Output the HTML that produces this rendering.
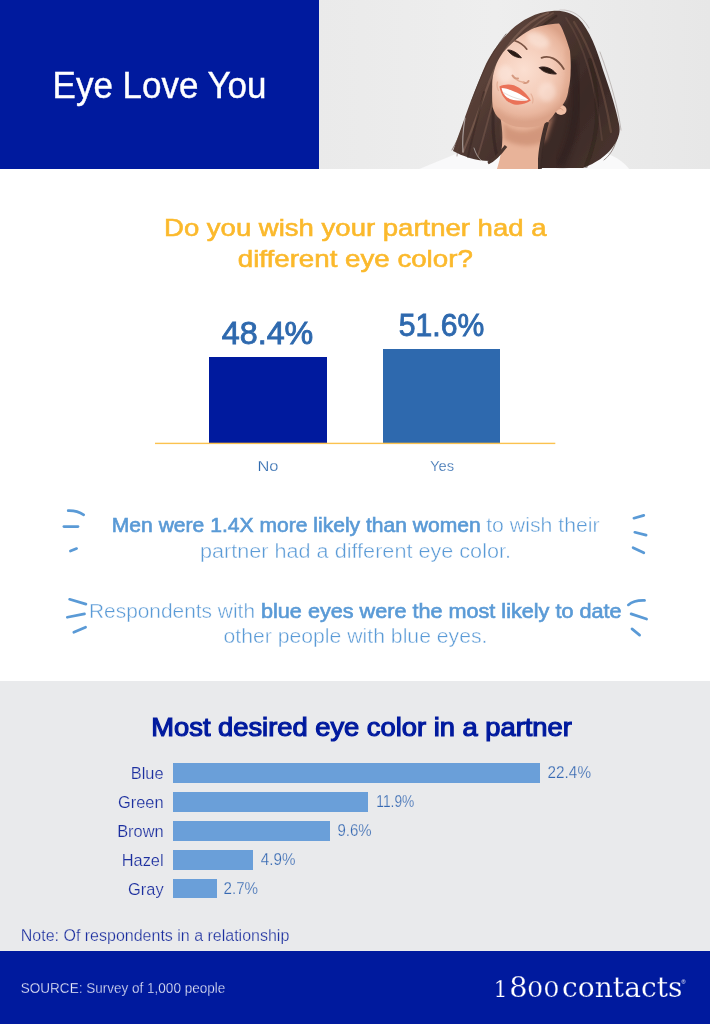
<!DOCTYPE html>
<html lang="en">
<head>
<meta charset="utf-8">
<title>Eye Love You</title>
<style>
html,body{margin:0;padding:0;}
body{width:710px;height:1024px;position:relative;overflow:hidden;background:#fff;font-family:"Liberation Sans",sans-serif;}
.r{position:absolute;}
#txt{position:absolute;left:0;top:0;font-family:"Liberation Sans",sans-serif;}
</style>
</head>
<body>
<svg id="photo" viewBox="318 0 392 169" width="392" height="169" style="position:absolute;left:318px;top:0">
<defs>
<linearGradient id="bgg" x1="0" y1="0" x2="1" y2="0">
<stop offset="0" stop-color="#eaeaea"/><stop offset="0.45" stop-color="#eeeeee"/><stop offset="1" stop-color="#e7e7e7"/>
</linearGradient>
<radialGradient id="faceg" gradientUnits="userSpaceOnUse" cx="524" cy="70" r="52">
<stop offset="0" stop-color="#fbdfd1"/><stop offset="0.55" stop-color="#f4ccb9"/><stop offset="0.85" stop-color="#e9b69e"/><stop offset="1" stop-color="#dba288"/>
</radialGradient>
<linearGradient id="hairg" gradientUnits="userSpaceOnUse" x1="460" y1="40" x2="620" y2="150">
<stop offset="0" stop-color="#6a4c42"/><stop offset="0.35" stop-color="#4e3831"/><stop offset="0.7" stop-color="#3a2926"/><stop offset="1" stop-color="#4a352f"/>
</linearGradient>
<filter id="b1" x="-20%" y="-20%" width="140%" height="140%"><feGaussianBlur stdDeviation="0.7"/></filter>
<filter id="b2" x="-20%" y="-20%" width="140%" height="140%"><feGaussianBlur stdDeviation="2"/></filter>
<filter id="b4" x="-30%" y="-30%" width="160%" height="160%"><feGaussianBlur stdDeviation="4"/></filter>
<clipPath id="pc"><rect x="318" y="0" width="392" height="169"/></clipPath>
</defs>
<g clip-path="url(#pc)">
<rect x="318" y="0" width="392" height="169" fill="url(#bgg)"/>
<!-- shirt -->
<path d="M417,170 C430,164 445,159 458,153 L500,150 L585,152 C600,150 618,154 630,170 Z" fill="#f9f9fa" filter="url(#b1)"/>
<!-- hair back -->
<path filter="url(#b1)" fill="url(#hairg)" d="M552,11 C536,12 522,20 511,30 C500,41 492,52 486,64 C479,80 474,93 469,106 C464,120 459,134 453,151 C462,156 476,161 490,161 C498,156 502,150 506,144 L540,140 C538,150 536,158 538,168 L583,168 C596,163 606,156 612,148 C618,140 621,133 619,124 C616,108 610,90 603,70 C597,50 590,30 578,18 C570,12 561,10 552,11 Z"/>
<!-- hair highlights -->
<g fill="none" filter="url(#b1)" stroke-linecap="round">
<path d="M548,13 C524,22 503,47 490,80 C481,104 473,128 463,152" stroke="#8a695b" stroke-width="2.2" opacity="0.55"/>
<path d="M553,13 C530,26 511,50 499,82 C491,106 486,130 478,156" stroke="#7c5c4f" stroke-width="1.8" opacity="0.5"/>
<path d="M556,16 C538,28 520,46 508,66" stroke="#33231f" stroke-width="2.5" opacity="0.6"/>
<path d="M496,90 C492,112 492,136 497,156" stroke="#2f201d" stroke-width="3" opacity="0.55"/>
<path d="M484,92 C478,116 472,138 468,157" stroke="#35251f" stroke-width="2" opacity="0.5"/>
<path d="M574,22 C592,50 604,90 611,132" stroke="#755548" stroke-width="2.2" opacity="0.5"/>
<path d="M566,18 C584,44 596,86 602,140" stroke="#6d4f44" stroke-width="1.8" opacity="0.45"/>
<path d="M590,60 C600,96 600,134 586,166" stroke="#2c1e1b" stroke-width="4" opacity="0.45"/>
<path d="M506,34 C490,54 480,78 472,100" stroke="#4a352f" stroke-width="0.9" opacity="0.7"/>
<path d="M474,96 C468,116 460,136 452,150" stroke="#5a4138" stroke-width="0.9" opacity="0.7"/>
<path d="M470,112 C462,130 458,142 457,156" stroke="#5a4138" stroke-width="0.8" opacity="0.6"/>
<path d="M600,52 C611,82 618,108 621,130" stroke="#4a352f" stroke-width="0.8" opacity="0.35"/>
<path d="M618,128 C618,142 612,154 604,160" stroke="#4a352f" stroke-width="0.9" opacity="0.6"/>
<path d="M560,10 C572,9 582,16 589,28" stroke="#4a352f" stroke-width="0.7" opacity="0.3"/>
<path d="M465,118 C463,130 462,140 463,152" stroke="#eeeeee" stroke-width="1.2" opacity="0.55"/>
<path d="M474,148 C476,154 478,158 482,161" stroke="#eeeeee" stroke-width="1" opacity="0.5"/>
</g>
<path d="M572,60 C580,95 578,130 560,166" stroke="#2c1e1b" stroke-width="9" fill="none" opacity="0.55" filter="url(#b2)"/>
<!-- neck -->
<path d="M500,116 C504,135 503,150 497,169 L540,169 C540.5,155 543,140 549,120 L556,110 Z" fill="#e8b399" filter="url(#b1)"/>
<path d="M503,122 C515,136 538,134 555,113 L546,140 C536,148 515,147 504,139 Z" fill="#c98b70" opacity="0.7" filter="url(#b2)"/>
<path d="M547,122 C542,140 539,156 540,169" stroke="#3a2926" stroke-width="4" fill="none" filter="url(#b1)" opacity="0.95"/>
<path d="M506,146 C500,154 494,160 488,163" stroke="#4a342e" stroke-width="3" fill="none" filter="url(#b1)"/>
<!-- ear -->
<ellipse cx="561" cy="110" rx="5.5" ry="5" fill="#f0bfa6" filter="url(#b1)"/>
<path d="M558.5,109 q3,-2 4.5,1.5" stroke="#d79b80" stroke-width="1" fill="none" filter="url(#b1)"/>
<!-- face -->
<path filter="url(#b1)" fill="url(#faceg)" d="M559,23.5 C548,24 538,26 531,29.5 C525,33 520,36 515.6,40 C510,45 506,49 503,52.5 C499,58 497,62 495.5,66.5 C493,74 492,80 492.2,86 C492,94 492,100 492.6,107 C494,112 496,116 500,119 C506,124 513,127 520,127 C528,128 536,127 542,125 C548,122 552,118 555,113 C560,108 562,106 564,103 C567,98 568,94 568.5,89 C570,83 570.6,77 570.6,71 C571,64 570.5,57 570,51 C568,44 566,38 563.7,32.4 C562,28 561,26 559,23.5 Z"/>
<ellipse cx="505" cy="74" rx="8" ry="9" fill="#fff1ea" opacity="0.45" filter="url(#b2)"/>
<ellipse cx="547" cy="92" rx="9" ry="10" fill="#fff1ea" opacity="0.4" filter="url(#b2)"/>
<ellipse cx="538" cy="40" rx="12" ry="7" fill="#fdeae0" opacity="0.6" filter="url(#b2)" transform="rotate(25 538 40)"/>
<path d="M497,110 C506,122 522,127 542,123" stroke="#dba389" stroke-width="4" fill="none" opacity="0.55" filter="url(#b2)"/>
<path d="M567,50 C569,66 568,86 562,102" stroke="#d9a085" stroke-width="4" fill="none" opacity="0.5" filter="url(#b2)"/>
<g filter="url(#b1)">
<!-- brows -->
<path d="M514.8,40.8 C519,42 523.5,45 526.8,49.2" stroke="#7a5343" stroke-width="1.7" fill="none" stroke-linecap="round"/>
<path d="M541.5,57.8 C549,55 557.5,58.5 563.8,69" stroke="#7a5343" stroke-width="1.8" fill="none" stroke-linecap="round"/>
<!-- eyes -->
<path d="M507.6,50 C511,49.6 517.5,52.5 521.4,57.8 C516,57.6 510.5,55 507.6,50 Z" fill="#2b1b18" stroke="#2b1b18" stroke-width="0.9" stroke-linejoin="round"/>
<path d="M539.2,67.6 C544,65.6 552,68 556.4,74 C550,74.3 543,72.3 539.2,67.6 Z" fill="#2b1b18" stroke="#2b1b18" stroke-width="0.9" stroke-linejoin="round"/>
<!-- nose -->
<path d="M512.5,75.5 C514,78 516,79 518,78.5" stroke="#d59a80" stroke-width="2" fill="none" stroke-linecap="round"/>
<path d="M523.5,82.5 C525.5,83.5 527.5,83 528.5,81" stroke="#d59a80" stroke-width="2" fill="none" stroke-linecap="round"/>
<path d="M517,80 C519,81.5 521.5,82 523.5,82.3" stroke="#e4ad94" stroke-width="1.4" fill="none" stroke-linecap="round"/>
<!-- smile lines -->
<path d="M497.5,82 C496.5,85 497,88 498.5,90.5" stroke="#e6b29a" stroke-width="1.3" fill="none" stroke-linecap="round"/>
<path d="M531,94 C533,97 533.5,100 532.5,103" stroke="#e6b29a" stroke-width="1.3" fill="none" stroke-linecap="round"/>
<!-- mouth -->
<path d="M499.4,86.4 C504,84.3 509,83.8 514,85.3 C521,88 527,94 530.8,100.6 C526,104.2 520,105.3 514,104.4 C507,103 501,96 499.4,86.4 Z" fill="#ea7259"/>
<path d="M501.6,88 C508,88.3 520,92.8 528.6,100 C521,101.8 512,100.6 507,97.5 C504,95 502.2,92 501.6,88 Z" fill="#ffffff"/>
<path d="M503.5,92.5 C509,96 518,99.5 527,100.4" stroke="#d8cfc9" stroke-width="0.7" fill="none"/>
</g>
</g>
</svg>

<div class="r" style="left:0;top:0;width:319px;height:169px;background:#001a9e"></div>
<div class="r" style="left:209px;top:357.4px;width:118px;height:85.6px;background:#001a9e"></div>
<div class="r" style="left:383.4px;top:348.8px;width:117.1px;height:94.2px;background:#2e69ae"></div>
<div class="r" style="left:0;top:681px;width:710px;height:271px;background:#e9eaec"></div>
<div class="r" style="left:173px;top:763.4px;width:366.7px;height:19.5px;background:#6a9fd9"></div>
<div class="r" style="left:173px;top:792.3px;width:195.3px;height:19.5px;background:#6a9fd9"></div>
<div class="r" style="left:173px;top:821px;width:157px;height:19.5px;background:#6a9fd9"></div>
<div class="r" style="left:173px;top:850px;width:79.7px;height:19.5px;background:#6a9fd9"></div>
<div class="r" style="left:173px;top:878.8px;width:44.2px;height:19.5px;background:#6a9fd9"></div>
<div class="r" style="left:0;top:951px;width:710px;height:73px;background:#001a9e"></div>
<svg id="txt" width="710" height="1024" viewBox="0 0 710 1024">
<rect x="155" y="442.7" width="400.3" height="1.4" fill="#fbc24f"/>
<g fill="none" stroke="#5a9ad6" stroke-width="2.7" stroke-linecap="round">
<path d="M68.2,510.6 Q77,510.3 83.7,514.8"/>
<path d="M63.9,526.6 L78,526.6"/>
<path d="M70.4,551.1 L76.6,548.6"/>
<path d="M69.6,599.3 L85.9,604.1"/>
<path d="M67.3,617.3 L84.5,613.9"/>
<path d="M73.8,632.3 L85.6,627.2"/>
<path d="M633.9,518.2 L643.8,515.4"/>
<path d="M634.8,532.3 L646.1,535.1"/>
<path d="M633.1,547.7 L643.8,552.8"/>
<path d="M628.3,604.9 Q634,600 644.6,600.4"/>
<path d="M631.1,613.9 L646.6,619"/>
<path d="M632,628.9 L639.6,635.1"/>
</g>
<text x="52.6" y="97.5" font-size="36" fill="#fff" font-weight="normal" text-anchor="start" textLength="213.8" lengthAdjust="spacingAndGlyphs" stroke="#fff" stroke-width="0.4">Eye Love You</text>
<text x="164" y="235.6" font-size="24" fill="#fbb92c" font-weight="normal" text-anchor="start" textLength="382.5" lengthAdjust="spacingAndGlyphs" stroke="#fbb92c" stroke-width="0.6">Do you wish your partner had a</text>
<text x="237.8" y="267.4" font-size="24" fill="#fbb92c" font-weight="normal" text-anchor="start" textLength="235" lengthAdjust="spacingAndGlyphs" stroke="#fbb92c" stroke-width="0.6">different eye color?</text>
<text x="221.8" y="343.6" font-size="30.5" fill="#2e69ae" font-weight="normal" text-anchor="start" textLength="91.5" lengthAdjust="spacingAndGlyphs" stroke="#2e69ae" stroke-width="0.85">48.4%</text>
<text x="398.8" y="335.8" font-size="30.5" fill="#2e69ae" font-weight="normal" text-anchor="start" textLength="85.4" lengthAdjust="spacingAndGlyphs" stroke="#2e69ae" stroke-width="0.85">51.6%</text>
<text x="257.5" y="471" font-size="15" fill="#2e69ae" font-weight="normal" text-anchor="start" textLength="21" lengthAdjust="spacingAndGlyphs" stroke="#fff" stroke-width="0.25">No</text>
<text x="430" y="471" font-size="15" fill="#2e69ae" font-weight="normal" text-anchor="start" textLength="24" lengthAdjust="spacingAndGlyphs" stroke="#fff" stroke-width="0.25">Yes</text>
<text x="111.8" y="531.9" font-size="20" fill="#5a9ad6" font-weight="normal" text-anchor="start" textLength="369" lengthAdjust="spacingAndGlyphs" stroke="#5a9ad6" stroke-width="0.62">Men were 1.4X more likely than women</text>
<text x="486.2" y="531.9" font-size="20" fill="#5a9ad6" font-weight="normal" text-anchor="start" textLength="113.5" lengthAdjust="spacingAndGlyphs" stroke="#fff" stroke-width="0.42">to wish their</text>
<text x="200" y="557.6" font-size="20" fill="#5a9ad6" font-weight="normal" text-anchor="start" textLength="311" lengthAdjust="spacingAndGlyphs" stroke="#fff" stroke-width="0.42">partner had a different eye color.</text>
<text x="89" y="617.9" font-size="20" fill="#5a9ad6" font-weight="normal" text-anchor="start" textLength="166" lengthAdjust="spacingAndGlyphs" stroke="#fff" stroke-width="0.42">Respondents with</text>
<text x="261" y="617.9" font-size="20" fill="#5a9ad6" font-weight="normal" text-anchor="start" textLength="360.5" lengthAdjust="spacingAndGlyphs" stroke="#5a9ad6" stroke-width="0.62">blue eyes were the most likely to date</text>
<text x="223.5" y="643.2" font-size="20" fill="#5a9ad6" font-weight="normal" text-anchor="start" textLength="264" lengthAdjust="spacingAndGlyphs" stroke="#fff" stroke-width="0.42">other people with blue eyes.</text>
<text x="151.3" y="735.9" font-size="25.5" fill="#001a9e" font-weight="normal" text-anchor="start" textLength="420.5" lengthAdjust="spacingAndGlyphs" stroke="#001a9e" stroke-width="1.15">Most desired eye color in a partner</text>
<text x="163.6" y="779.4" font-size="16.4" fill="#1c2f9f" font-weight="normal" text-anchor="end" stroke="#e9eaec" stroke-width="0.2">Blue</text>
<text x="547.6" y="778.4" font-size="16.8" fill="#3568b2" font-weight="normal" text-anchor="start" textLength="43.4" lengthAdjust="spacingAndGlyphs" stroke="#e9eaec" stroke-width="0.25">22.4%</text>
<text x="163.6" y="808.2" font-size="16.4" fill="#1c2f9f" font-weight="normal" text-anchor="end" stroke="#e9eaec" stroke-width="0.2">Green</text>
<text x="376.3" y="807.2" font-size="16.8" fill="#3568b2" font-weight="normal" text-anchor="start" textLength="38" lengthAdjust="spacingAndGlyphs" stroke="#e9eaec" stroke-width="0.25">11.9%</text>
<text x="163.6" y="837.1" font-size="16.4" fill="#1c2f9f" font-weight="normal" text-anchor="end" stroke="#e9eaec" stroke-width="0.2">Brown</text>
<text x="337.5" y="836.1" font-size="16.8" fill="#3568b2" font-weight="normal" text-anchor="start" textLength="34.2" lengthAdjust="spacingAndGlyphs" stroke="#e9eaec" stroke-width="0.25">9.6%</text>
<text x="163.6" y="866.0" font-size="16.4" fill="#1c2f9f" font-weight="normal" text-anchor="end" stroke="#e9eaec" stroke-width="0.2">Hazel</text>
<text x="260.8" y="865.0" font-size="16.8" fill="#3568b2" font-weight="normal" text-anchor="start" textLength="34.6" lengthAdjust="spacingAndGlyphs" stroke="#e9eaec" stroke-width="0.25">4.9%</text>
<text x="163.6" y="894.8" font-size="16.4" fill="#1c2f9f" font-weight="normal" text-anchor="end" stroke="#e9eaec" stroke-width="0.2">Gray</text>
<text x="223.5" y="893.8" font-size="16.8" fill="#3568b2" font-weight="normal" text-anchor="start" textLength="34.6" lengthAdjust="spacingAndGlyphs" stroke="#e9eaec" stroke-width="0.25">2.7%</text>
<text x="20.8" y="941" font-size="16" fill="#1c2f9f" font-weight="normal" text-anchor="start" textLength="268.5" lengthAdjust="spacingAndGlyphs" stroke="#e9eaec" stroke-width="0.25">Note: Of respondents in a relationship</text>
<text x="20.8" y="993" font-size="13.8" fill="#eef0fa" font-weight="normal" text-anchor="start" textLength="204.5" lengthAdjust="spacingAndGlyphs" stroke="#001a9e" stroke-width="0.3">SOURCE: Survey of 1,000 people</text>
<g font-family="'DejaVu Serif',serif" fill="#fff" stroke="#001a9e" stroke-width="0.25">
<text x="493.6" y="997.4" font-size="22">1</text>
<text x="509.2" y="997.4" font-size="28.8">8</text>
<text x="526.9" y="997.4" font-size="21.4" textLength="32.6" lengthAdjust="spacingAndGlyphs">00</text>
<text x="562" y="997.4" font-size="27" textLength="120.5" lengthAdjust="spacingAndGlyphs">contacts</text>
<text x="681.6" y="984" font-size="5.5" stroke="none" font-family="'Liberation Sans',sans-serif">®</text>
</g>
</svg>
</body>
</html>
